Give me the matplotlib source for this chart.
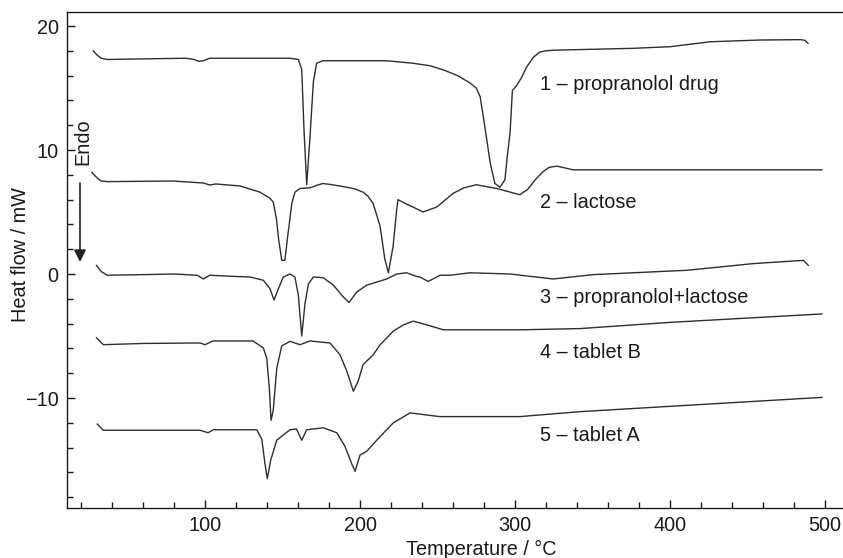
import matplotlib
matplotlib.use("Agg")
import matplotlib.pyplot as plt
from matplotlib.ticker import MultipleLocator

plt.rcParams['font.family'] = ['Liberation Sans', 'DejaVu Sans']

# ---- data (temperature in °C, heat flow in mW) ----
t1 = [28, 30, 33, 37, 60, 88, 93, 96, 99, 103, 130, 155, 160.2, 162.4, 163.9, 165.6,
      167.7, 169.9, 172, 176, 200, 217, 234, 245, 254, 263, 271, 275, 277.5, 280.5,
      284, 287, 290.3, 293.5, 295, 296.8, 298.3, 301, 304, 307.5, 312, 316, 320, 325, 342,
      376, 400, 426, 458, 484, 487, 489]
h1 = [18.0, 17.7, 17.4, 17.3, 17.35, 17.4, 17.3, 17.15, 17.2, 17.4, 17.4, 17.4, 17.3,
      16.5, 11.5, 7.2, 11.0, 15.5, 17.0, 17.2, 17.2, 17.2, 17.0, 16.8, 16.45, 16.0, 15.4,
      15.0, 14.3, 11.9, 8.95, 7.3, 7.0, 7.6, 9.5, 11.4, 14.8, 15.2, 15.8, 16.7, 17.5,
      17.9, 18.0, 18.05, 18.1, 18.2, 18.33, 18.73, 18.87, 18.9, 18.85, 18.6]

t2 = [27, 30, 33, 37, 79, 99, 103, 107, 122.6, 135.5, 142, 144, 146, 147.5, 149.5,
      151.5, 153.6, 156, 158, 161.3, 167.7, 172, 176, 182, 191.4, 197, 202, 205, 208.4, 212.9, 216,
      218.3, 221.3, 223.5, 224.5, 229, 234.2, 240.6, 249.5, 260, 267, 275, 288, 303, 308,
      313, 318, 322, 327, 337.6, 400, 498]
h2 = [8.2, 7.8, 7.5, 7.45, 7.5, 7.34, 7.18, 7.26, 7.1, 6.6, 6.1, 5.8, 4.5, 2.8, 1.1,
      1.1, 3.3, 5.7, 6.6, 6.9, 6.95, 7.15, 7.3, 7.2, 7.0, 6.85, 6.6, 6.3, 5.7, 3.9, 1.2, 0.1, 2.2, 5.0,
      6.0, 5.7, 5.4, 5.0, 5.4, 6.5, 6.95, 7.2, 6.9, 6.4, 6.8, 7.6, 8.25, 8.6, 8.7, 8.4, 8.4, 8.4]

t3 = [30, 33, 37, 60, 80, 95, 99, 103, 120, 129, 137.6, 142, 144.5, 147.3, 150.5,
      154.8, 158, 160.2, 162.4, 164.5, 166.7, 169.9, 176.3, 182.8, 189.2, 192.9,
      197.9, 204.3, 210.8, 217.2, 223.7, 230, 236.6, 238.7, 244, 251.6, 258, 271,
      296.8, 324.7, 350.5, 410.8, 453.8, 486, 489.2]
h3 = [0.7, 0.2, -0.1, -0.05, 0.0, -0.1, -0.4, -0.1, -0.2, -0.24, -0.5, -1.2, -2.1,
      -1.2, -0.24, 0.0, -0.24, -1.7, -5.0, -2.4, -0.8, -0.24, -0.3, -0.9, -1.85, -2.3,
      -1.45, -0.9, -0.65, -0.4, 0.0, 0.1, -0.2, -0.24, -0.6, -0.1, -0.1, 0.1, 0.0,
      -0.4, -0.05, 0.3, 0.84, 1.1, 0.7]

t4 = [30, 34.4, 60, 96.8, 100, 105, 131, 137.6, 139.8, 141.5, 142.6, 144, 146.3,
      149.5, 154.8, 161.3, 167.7, 180.6, 187, 191.4, 195.7, 198.9, 202, 208.6, 213,
      221.5, 228, 234.4, 243, 253.8, 303, 342, 400, 498]
h4 = [-5.15, -5.7, -5.6, -5.56, -5.7, -5.4, -5.4, -5.96, -6.77, -9.2, -11.8, -11.0,
      -7.6, -5.8, -5.43, -5.7, -5.4, -5.56, -6.5, -7.8, -9.45, -8.6, -7.3, -6.5, -5.7,
      -4.6, -4.1, -3.8, -4.1, -4.5, -4.5, -4.4, -3.9, -3.22]

t5 = [30.5, 34.4, 60, 96.8, 102, 105.4, 133.4, 136.6, 138.7, 140.2, 142.4, 146.3,
      154.8, 159, 162.4, 165.6, 176.3, 185, 190.3, 194.6, 196.8, 200, 204.3, 213,
      221.5, 232.3, 245, 251.6, 303, 342, 415, 498]
h5 = [-12.1, -12.6, -12.6, -12.6, -12.8, -12.56, -12.56, -13.3, -15.3, -16.5, -15.0,
      -13.4, -12.56, -12.5, -13.4, -12.56, -12.4, -12.8, -13.9, -15.3, -15.9, -14.6,
      -14.3, -13.1, -12.0, -11.2, -11.4, -11.5, -11.5, -11.1, -10.56, -9.95]

labels = ["1 – propranolol drug", "2 – lactose", "3 – propranolol+lactose",
          "4 – tablet B", "5 – tablet A"]
label_y = [15.3, 5.8, -1.9, -6.3, -13.0]
label_x = 316

series = [(t1, h1), (t2, h2), (t3, h3), (t4, h4), (t5, h5)]

fig = plt.figure(figsize=(8.43, 5.58), dpi=100)
ax = fig.add_axes([67 / 843, 50 / 558, 781 / 843, 496 / 558])

for t, h in series:
    ax.plot(t, h, color='#2e2e2e', lw=1.0)

for lab, ly in zip(labels, label_y):
    ax.text(label_x, ly, lab, fontsize=14.3, va='center', ha='left', color='#1a1a1a')

ax.text(21.3, 10.7, "Endo", rotation=90, fontsize=14.3, ha='center', va='center',
        color='#1a1a1a')
ax.annotate("", xy=(19.35, 0.97), xytext=(19.35, 7.34),
            arrowprops=dict(arrowstyle='-|>', color='#222222', lw=1.2,
                            mutation_scale=18, shrinkA=0, shrinkB=0))

ax.set_xlim(10.97, 514.8)
ax.set_ylim(-18.87, 21.13)
ax.xaxis.set_major_locator(MultipleLocator(100))
ax.xaxis.set_minor_locator(MultipleLocator(20))
ax.yaxis.set_major_locator(MultipleLocator(10))
ax.yaxis.set_minor_locator(MultipleLocator(2))
ax.set_xticks([100, 200, 300, 400, 500])
ax.set_yticks([-10, 0, 10, 20])
ax.set_yticklabels(["\u221210", "0", "10", "20"])
ax.tick_params(which='both', direction='in', top=False, right=False,
               labelsize=14.3, colors='#1a1a1a')
ax.tick_params(which='major', length=6, width=1.0, pad=6)
ax.tick_params(which='minor', length=4, width=1.0)
for s in ax.spines.values():
    s.set_linewidth(1.0)
    s.set_color('#1a1a1a')

fig.text(481 / 843, 3 / 558, "Temperature / °C", fontsize=14.3, ha='center',
         va='baseline', color='#1a1a1a')
fig.text(21 / 843, (558 - 255) / 558, "Heat flow / mW", fontsize=14.3, rotation=90,
         ha='center', va='center', color='#1a1a1a')

fig.savefig("out.png", dpi=100)
